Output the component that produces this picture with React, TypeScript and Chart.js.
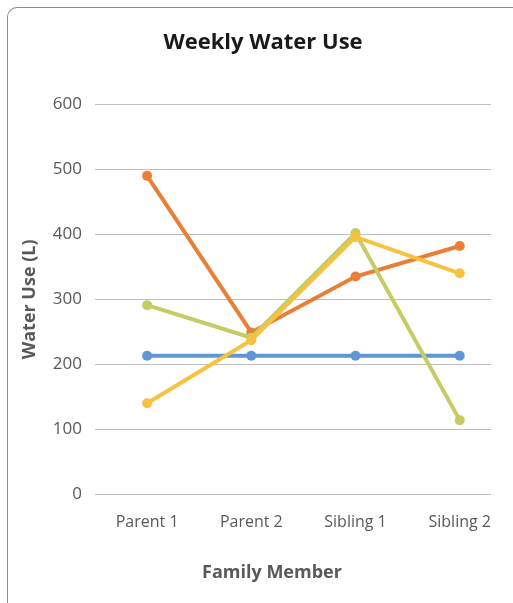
import React, { useEffect, useRef } from "react";
import { Chart, registerables } from "chart.js";

Chart.register(...registerables);

const categories = ["Parent 1", "Parent 2", "Sibling 1", "Sibling 2"];
const blueValues = [213, 213, 213, 213];
const orangeValues = [490, 249, 335, 382];
const greenValues = [291, 241, 402, 114];
const yellowValues = [140, 237, 396, 340];
const yTicks = [0, 100, 200, 300, 400, 500, 600];

const FONT = "'Open Sans', 'Noto Sans', sans-serif";

export default function App() {
  const ref = useRef<HTMLCanvasElement | null>(null);

  useEffect(() => {
    document.documentElement.style.overflow = "hidden";
    const toPts = (arr: number[]) => arr.map((v, i) => ({ x: i, y: v }));
    const mk = (label: string, data: number[], color: string) => ({
      label,
      data: toPts(data),
      borderColor: color,
      backgroundColor: color,
      borderWidth: 4,
      pointRadius: 5,
      pointHoverRadius: 5,
      pointBorderWidth: 0,
      tension: 0,
      yAxisID: "y",
    });
    const chart = new Chart(ref.current!, {
      type: "line",
      data: {
        datasets: [
          mk("Yellow", yellowValues, "#f8c13f"),
          mk("Green", greenValues, "#c4cc62"),
          mk("Orange", orangeValues, "#eb7e35"),
          mk("Blue", blueValues, "#5f97d2"),
        ],
      },
      options: {
        responsive: false,
        animation: false,
        layout: { padding: { left: 6, right: 0, top: 0, bottom: 19 } },
        plugins: {
          legend: { display: false },
          tooltip: { enabled: false },
          title: {
            display: true,
            text: "Weekly Water Use",
            color: "#1a1a1a",
            font: { family: FONT, size: 22, weight: "bold" },
            padding: { top: 22, bottom: 48 },
          },
        },
        scales: {
          x: {
            type: "linear",
            min: -0.5,
            max: 3.3,
            afterBuildTicks: (scale: any) => {
              scale.ticks = categories.map((_, i) => ({ value: i }));
            },
            grid: { display: false, drawTicks: false },
            border: { display: false },
            ticks: {
              color: "#595959",
              font: { family: FONT, size: 16 },
              padding: 19,
              maxRotation: 0,
              autoSkip: false,
              callback: (v: any) => categories[v] ?? "",
            },
            title: {
              display: true,
              text: "Family Member         ",
              color: "#595959",
              font: { family: FONT, size: 18, weight: "bold" },
              padding: { top: 11, bottom: 0 },
            },
          },
          y: {
            position: "left",
            min: 0,
            max: 600,
            afterBuildTicks: (scale: any) => {
              scale.ticks = yTicks.map((v) => ({ value: v }));
            },
            afterFit: (scale: any) => {
              scale.width = 81;
            },
            grid: { color: "#bfbfbf", lineWidth: 1, drawTicks: false },
            border: { display: false },
            ticks: {
              color: "#595959",
              font: { family: FONT, size: 17 },
              padding: 13,
            },
            title: {
              display: true,
              text: "Water Use (L)",
              color: "#595959",
              font: { family: FONT, size: 18, weight: "bold" },
              padding: { top: 5, bottom: 0 },
            },
          },
          spacer: {
            type: "linear",
            position: "right",
            display: true,
            min: 0,
            max: 600,
            afterFit: (scale: any) => {
              scale.width = 21;
            },
            grid: { display: false, drawTicks: false },
            border: { display: false },
            ticks: { display: false },
          },
        },
      },
    } as any);
    return () => chart.destroy();
  }, []);

  return (
    <div style={{ width: 504, height: 595, background: "#fff" }}>
      <canvas ref={ref} width={504} height={595} style={{ display: "block" }} />
      <div
        style={{
          position: "fixed",
          left: 7,
          top: 7,
          width: 530,
          height: 640,
          boxSizing: "border-box",
          borderLeft: "1px solid #8c8c8c",
          borderTop: "1px solid #8c8c8c",
          borderTopLeftRadius: 10,
          pointerEvents: "none",
          zIndex: 2,
        }}
      />
    </div>
  );
}
